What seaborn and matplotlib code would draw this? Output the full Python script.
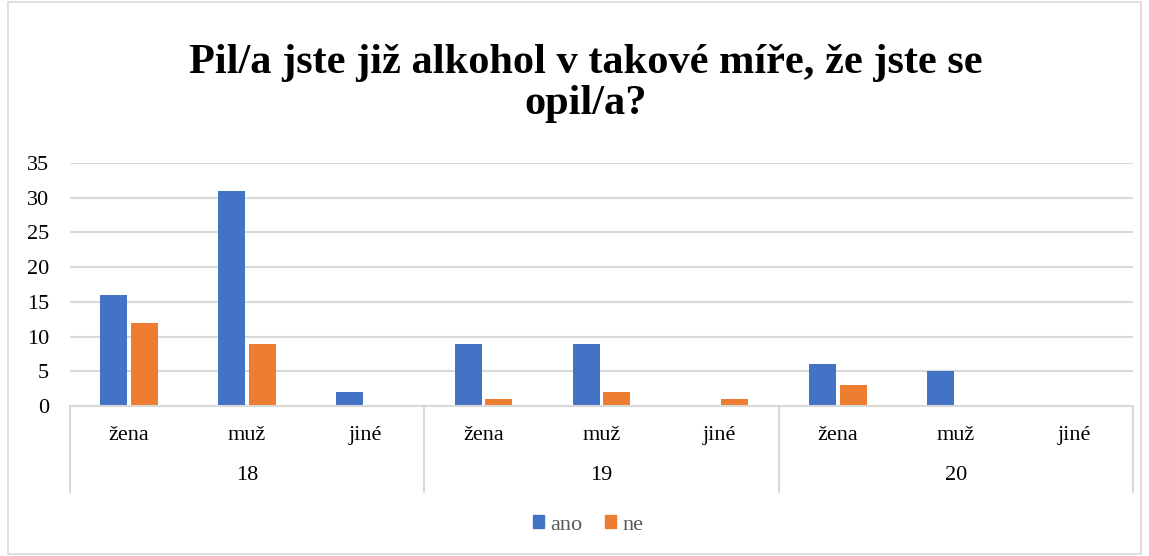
import matplotlib
matplotlib.use("Agg")
import matplotlib.pyplot as plt
from matplotlib import font_manager
from matplotlib.patches import Rectangle
import pandas as pd
import seaborn as sns

# Données du graphique
vekove_skupiny = ['18', '19', '20']
pohlavi = ['žena', 'muž', 'jiné']
ano = [16, 31, 2, 9, 9, 0, 6, 5, 0]
ne = [12, 9, 0, 1, 2, 1, 3, 0, 0]
odpovedi = ['ano', 'ne']
barvy = ['#4472C4', '#ED7D31']

sns.set_theme(style='white')
nazvy = sorted({f.name for f in font_manager.fontManager.ttflist})
kandidati = ['Liberation Serif', 'Times New Roman', 'Nimbus Roman', 'TeX Gyre Termes',
             'FreeSerif', 'Noto Serif', 'DejaVu Serif']
pismo = next((k for k in kandidati if k in nazvy), 'DejaVu Serif')
plt.rcParams['font.family'] = [pismo, 'DejaVu Serif']
plt.rcParams['text.color'] = 'black'
plt.rcParams['ytick.color'] = 'black'

sloty = [f'{v}|{p}' for v in vekove_skupiny for p in pohlavi]
df = pd.DataFrame({
    'slot': sloty * 2,
    'odpoved': ['ano'] * len(sloty) + ['ne'] * len(sloty),
    'pocet': ano + ne,
})

fig = plt.figure(figsize=(11.49, 5.56), dpi=100)
ax = fig.add_axes([70 / 1149, 1 - 406 / 556, (1133 - 70) / 1149, (406 - 163) / 556])

sns.barplot(data=df, x='slot', y='pocet', hue='odpoved', order=sloty,
            hue_order=odpovedi, palette=barvy, width=0.52, gap=0.12,
            linewidth=0, saturation=1, legend=False, ax=ax)

ax.set_xlim(-0.5, len(sloty) - 0.5)
ax.set_ylim(0, 35)
ax.set_yticks(range(0, 36, 5))
ax.tick_params(axis='y', length=0, pad=15, labelsize=16, labelcolor='black')
ax.set_xticks([])
ax.set_xlabel('')
ax.set_ylabel('')
ax.yaxis.grid(True, color='#d9d9d9', linewidth=1.5)
ax.set_axisbelow(True)
for s in ['top', 'right', 'left']:
    ax.spines[s].set_visible(False)
ax.spines['bottom'].set_color('#d9d9d9')
ax.spines['bottom'].set_linewidth(1.5)

# Popisky kategorií a skupin
trans = ax.get_xaxis_transform()
for i, slot in enumerate(sloty):
    ax.text(i, -0.123, slot.split('|')[1], transform=trans, ha='center',
            va='center', fontsize=16, color='black')
for g, vek in enumerate(vekove_skupiny):
    ax.text(g * 3 + 1, -0.288, vek, transform=trans, ha='center',
            va='center', fontsize=16, color='black')
for x in [-0.5, 2.5, 5.5, 8.5]:
    ax.plot([x, x], [0, -0.354], transform=trans, color='#d9d9d9',
            linewidth=1.5, clip_on=False)

fig.suptitle('Pil/a jste již alkohol v takové míře, že jste se\nopil/a?',
             x=586 / 1149, y=1 - 44 / 556, va='top', fontsize=30.5,
             fontweight='bold', linespacing=1.1, color='black')

# Legenda
handles = [Rectangle((0, 0), 1, 1, color=c) for c in barvy]
fig.legend(handles, odpovedi, loc='center', bbox_to_anchor=(588 / 1149, 1 - 525 / 556),
           ncol=2, frameon=False, fontsize=16, handlelength=0.5, handleheight=0.5,
           handletextpad=0.3, columnspacing=1.0, labelcolor='#595959')

# Rámeček grafu
fig.patches.append(Rectangle((8 / 1149, 2 / 556), 1 - 16 / 1149, 1 - 4 / 556,
                             transform=fig.transFigure, fill=False,
                             edgecolor='#d9d9d9', linewidth=1.2))

fig.savefig('out.png', dpi=100)
